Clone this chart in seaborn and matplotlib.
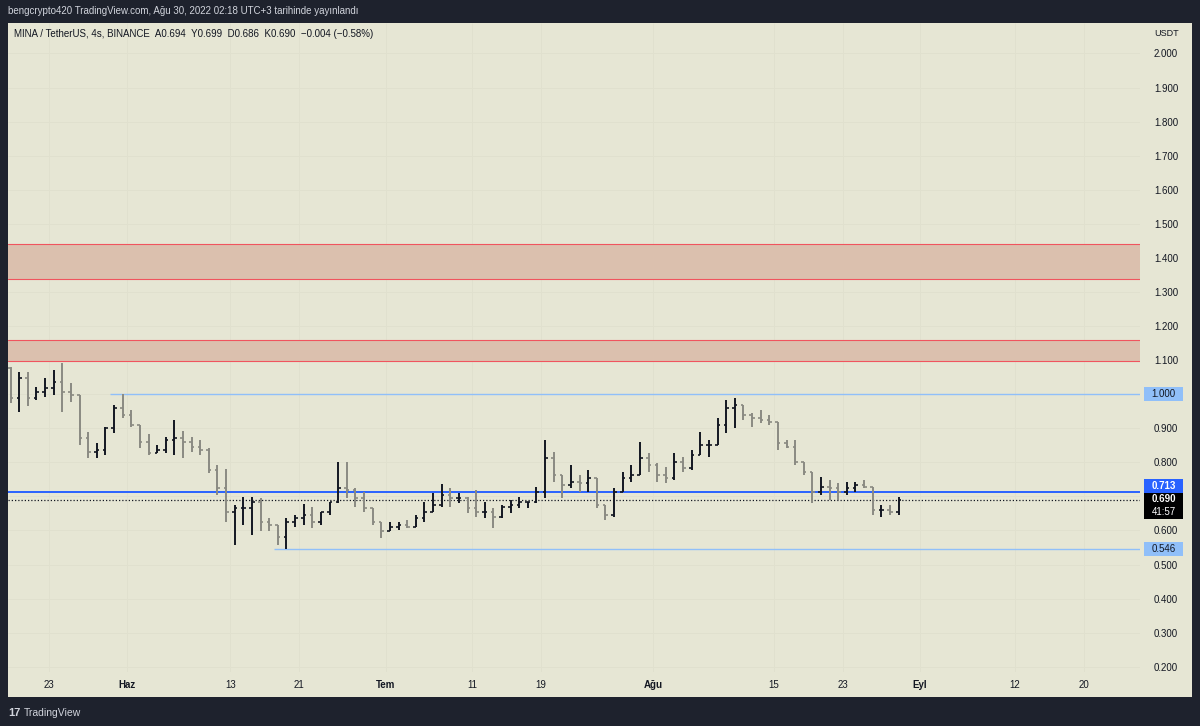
import numpy as np
import pandas as pd
import matplotlib
matplotlib.use("Agg")
import matplotlib.pyplot as plt
import matplotlib.dates as mdates
from matplotlib.patches import Rectangle
import seaborn as sns

# daily bars, MINA/USDT
dates = pd.date_range("2022-05-18", "2022-08-29", freq="D")
first_open = 1.076
highs = [1.081, 1.066, 1.066, 1.022, 1.047, 1.071, 1.093, 1.032, 0.998, 0.890, 0.856, 0.905, 0.968, 1.000,
         0.954, 0.910, 0.882, 0.851, 0.875, 0.924, 0.892, 0.875, 0.866, 0.841, 0.792, 0.780, 0.675, 0.699, 0.699,
         0.694, 0.636, 0.616, 0.636, 0.646, 0.677, 0.670, 0.655, 0.685, 0.802, 0.802, 0.724, 0.714, 0.665, 0.626,
         0.626, 0.626, 0.631, 0.646, 0.685, 0.709, 0.736, 0.724, 0.709, 0.699, 0.719, 0.685, 0.665, 0.675, 0.690,
         0.699, 0.685, 0.729, 0.866, 0.831, 0.763, 0.792, 0.763, 0.778, 0.753, 0.675, 0.724, 0.773, 0.792, 0.859, 0.827,
         0.797, 0.787, 0.827, 0.817, 0.836, 0.890, 0.866, 0.929, 0.983, 0.990, 0.968, 0.944, 0.954, 0.939, 0.919,
         0.866, 0.866, 0.802, 0.773, 0.758, 0.748, 0.738, 0.743, 0.743, 0.748, 0.729, 0.675, 0.675, 0.699]
lows = [0.975, 0.949, 0.964, 0.983, 0.993, 0.998, 0.949, 0.978, 0.851, 0.812, 0.812, 0.822, 0.885, 0.929,
        0.905, 0.841, 0.822, 0.827, 0.827, 0.822, 0.812, 0.831, 0.822, 0.768, 0.704, 0.626, 0.557, 0.616, 0.587,
        0.597, 0.597, 0.557, 0.546, 0.611, 0.616, 0.606, 0.616, 0.646, 0.680, 0.694, 0.670, 0.655, 0.616, 0.577,
        0.597, 0.601, 0.606, 0.611, 0.626, 0.655, 0.670, 0.670, 0.680, 0.651, 0.641, 0.636, 0.606, 0.636, 0.651,
        0.665, 0.665, 0.680, 0.694, 0.743, 0.694, 0.724, 0.714, 0.714, 0.665, 0.631, 0.641, 0.714, 0.743, 0.763, 0.773,
        0.743, 0.738, 0.748, 0.773, 0.778, 0.822, 0.817, 0.851, 0.885, 0.900, 0.924, 0.905, 0.914, 0.910, 0.836,
        0.841, 0.792, 0.763, 0.680, 0.704, 0.690, 0.690, 0.704, 0.714, 0.724, 0.645, 0.641, 0.646, 0.645]
closes = [0.990, 1.047, 0.988, 1.007, 1.017, 1.037, 1.007, 0.998, 0.871, 0.831, 0.836, 0.900, 0.959, 0.939,
          0.910, 0.861, 0.827, 0.836, 0.866, 0.871, 0.861, 0.846, 0.836, 0.778, 0.724, 0.655, 0.665, 0.665, 0.685,
          0.626, 0.616, 0.582, 0.626, 0.636, 0.646, 0.626, 0.655, 0.685, 0.724, 0.719, 0.694, 0.665, 0.626, 0.597,
          0.611, 0.616, 0.611, 0.636, 0.655, 0.675, 0.704, 0.694, 0.694, 0.665, 0.655, 0.655, 0.641, 0.670, 0.675,
          0.685, 0.685, 0.714, 0.812, 0.763, 0.734, 0.743, 0.738, 0.753, 0.675, 0.646, 0.714, 0.753, 0.763, 0.812, 0.792,
          0.763, 0.753, 0.802, 0.782, 0.822, 0.851, 0.851, 0.910, 0.959, 0.968, 0.939, 0.929, 0.924, 0.919, 0.856,
          0.846, 0.802, 0.773, 0.714, 0.729, 0.724, 0.714, 0.724, 0.734, 0.729, 0.660, 0.660, 0.655, 0.690]

# drawn levels
zones = [(1.338, 1.441), (1.098, 1.159)]
res_level, res_start = 1.000, "2022-05-30"
sup_level, sup_start = 0.546, "2022-06-18"
mid_level = 0.713
last_price = 0.690

price_ticks = [0.2, 0.3, 0.4, 0.5, 0.6, 0.7, 0.8, 0.9, 1.0, 1.1, 1.2, 1.3, 1.4, 1.5, 1.6, 1.7, 1.8, 1.9, 2.0]
hidden_ticks = [0.7, 1.0]  # covered by the price tags on the scale
tick_dates = ["2022-05-23", "2022-06-01", "2022-06-13", "2022-06-21", "2022-07-01", "2022-07-11",
              "2022-07-19", "2022-08-01", "2022-08-15", "2022-08-23", "2022-09-01", "2022-09-12", "2022-09-20"]
tick_labels = ["23", "Haz", "13", "21", "Tem", "11", "19", "Ağu", "15", "23", "Eyl", "12", "20"]
months = {"Haz", "Tem", "Ağu", "Eyl"}

DARK = "#1e222d"
BEIGE = "#e6e6d4"
INK = "#131722"
LIGHTBLUE = "#90bff9"

sns.set_theme(style="whitegrid")
plt.rcParams["font.family"] = ["Liberation Sans", "DejaVu Sans"]

W, H = 1200, 726
fig = plt.figure(figsize=(12, 7.26), dpi=100)
fig.patch.set_facecolor(DARK)


def fx(px):
    return px / W


def fy(py):
    return 1 - py / H


bg = Rectangle((fx(8), fy(697)), fx(1192) - fx(8), fy(23) - fy(697), transform=fig.transFigure,
               facecolor=BEIGE, edgecolor="none", zorder=-1)
fig.patches.append(bg)

ax = fig.add_axes([fx(8), fy(672), fx(1140) - fx(8), fy(23) - fy(672)])
ax.set_facecolor("none")

x = mdates.date2num(dates) + 0.5
opens = np.array([first_open] + closes[:-1])
cl = np.array(closes)
up = cl >= opens
for mask, col in [(up, INK), (~up, "#8a8a82")]:
    ax.vlines(x[mask], np.array(lows)[mask], np.array(highs)[mask], color=col, lw=1.4, zorder=3)
    ax.hlines(opens[mask], x[mask] - 0.3, x[mask], color=col, lw=1.2, zorder=3)
    ax.hlines(cl[mask], x[mask], x[mask] + 0.3, color=col, lw=1.2, zorder=3)

x0 = mdates.date2num(pd.Timestamp("2022-05-18 04:50"))
x1 = mdates.date2num(pd.Timestamp("2022-09-26 12:00"))
ax.set_xlim(x0, x1)
ax.set_ylim(0.1846, 2.0895)

for lo, hi in zones:
    ax.axhspan(lo, hi, facecolor="#dbc0ae", edgecolor="none", zorder=1)
    ax.axhline(lo, color="#f0545e", lw=0.8, zorder=2)
    ax.axhline(hi, color="#f0545e", lw=0.8, zorder=2)

ax.hlines(res_level, mdates.date2num(pd.Timestamp(res_start)), x1, color=LIGHTBLUE, lw=1.0, zorder=2)
ax.hlines(sup_level, mdates.date2num(pd.Timestamp(sup_start)), x1, color=LIGHTBLUE, lw=1.0, zorder=2)
ax.axhline(mid_level, color="#2962ff", lw=1.4, zorder=2)
ax.axhline(last_price, color=INK, lw=0.9, ls=(0, (1, 1.6)), zorder=2)

ax.set_yticks(price_ticks)
ax.set_yticklabels(["" if any(abs(v - h) < 1e-9 for h in hidden_ticks) else f"{v:.3f}" for v in price_ticks])
ax.yaxis.tick_right()
ax.tick_params(axis="y", length=0, pad=10, labelsize=7, labelcolor=INK)
ax.set_xticks(mdates.date2num(pd.to_datetime(tick_dates)))
ax.set_xticklabels(tick_labels)
ax.tick_params(axis="x", length=0, pad=6, labelsize=7, labelcolor=INK)
for lab in ax.get_xticklabels():
    if lab.get_text() in months:
        lab.set_fontweight("bold")
ax.grid(True, color="#e0e0ce", lw=0.6)
for s in ax.spines.values():
    s.set_visible(False)

# price labels on the scale
ytr = ax.get_yaxis_transform()
bx0 = (1144 - 8) / 1132
bw = (1183 - 1144) / 1132
bxc = (1163.5 - 8) / 1132


def px2p(py):
    return 2.0 - (py - 53.5) / 340.7


def tag(top, bot, face, lines, colors, bold):
    ax.add_patch(Rectangle((bx0, px2p(bot)), bw, px2p(top) - px2p(bot), transform=ytr,
                           facecolor=face, edgecolor="none", clip_on=False, zorder=6))
    n = len(lines)
    step = (bot - top) / n
    for i, (t, c, b) in enumerate(zip(lines, colors, bold)):
        ax.text(bxc, px2p(top + step * (i + 0.5)), t, transform=ytr, ha="center", va="center",
                fontsize=7, color=c, fontweight="bold" if b else "normal", clip_on=False, zorder=7)


tag(387, 401, LIGHTBLUE, [f"{res_level:.3f}"], [INK], [False])
tag(479, 493, "#2962ff", [f"{mid_level:.3f}"], ["white"], [True])
tag(493, 519, "#000000", [f"{last_price:.3f}", "41:57"], ["white", "white"], [True, False])
tag(542, 556, LIGHTBLUE, [f"{sup_level:.3f}"], [INK], [False])

fig.text(fx(1154), fy(33), "USDT", fontsize=6.5, color=INK, va="center", ha="left")
fig.text(fx(8), fy(11), "bengcrypto420 TradingView.com, Ağu 30, 2022 02:18 UTC+3 tarihinde yayınlandı",
         fontsize=7, color="#d1d4dc", va="center", ha="left")
fig.text(fx(14), fy(34), "MINA / TetherUS, 4s, BINANCE  A0.694  Y0.699  D0.686  K0.690  \u22120.004 (\u22120.58%)",
         fontsize=7, color=INK, va="center", ha="left")
fig.text(fx(8), fy(713), "17", fontsize=8, fontweight="bold", color="#d1d4dc", va="center", ha="left")
fig.text(fx(24), fy(713), "TradingView", fontsize=7.5, color="#d1d4dc", va="center", ha="left")

fig.savefig("out.png", dpi=100, facecolor=DARK)
